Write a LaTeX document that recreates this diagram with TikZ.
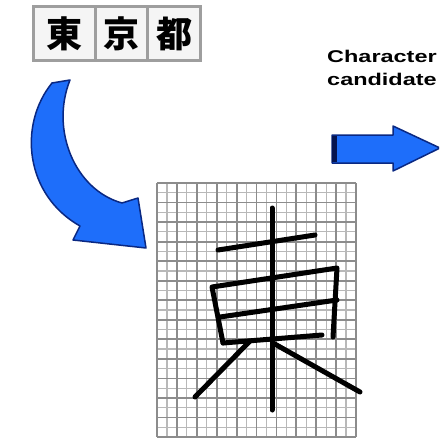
\documentclass[tikz,border=0pt]{standalone}
\usepackage{fontspec}
\setmainfont{Liberation Sans}
\newfontfamily\cjkfont{Noto Sans CJK JP}
\definecolor{arrowblue}{RGB}{30,110,250}
\definecolor{arrowedge}{RGB}{10,40,130}
\definecolor{arrowdark}{RGB}{5,20,80}
\begin{document}
\begin{tikzpicture}[x=1pt,y=-1pt,
  charbox/.style={draw=black!38,line width=3pt,fill=black!4,minimum width=#1,minimum height=54pt,inner sep=0pt,font=\cjkfont\bfseries\fontsize{36}{36}\selectfont},
  gridmajor/.style={draw=black!45,line width=1.8pt},
  gridminor/.style={draw=black!28,line width=1.2pt},
  stroke/.style={line width=5pt,line cap=round,line join=round,draw=black},
  bluefill/.style={fill=arrowblue,draw=arrowedge,line width=1.5pt,line join=round},
  label/.style={font=\bfseries\fontsize{17}{19}\selectfont,anchor=west,inner sep=0pt}
]
\clip (0,0) rectangle (439,441);
\fill[white] (0,0) rectangle (439,441);

% top character boxes
\node[charbox=62pt] (b1) at (64.5,34) {東};
\node[charbox=52pt] (b2) at (121.5,34) {京};
\node[charbox=53pt] (b3) at (174,34) {都};

% label
\node[label] (lbl1) at (327,56) {\scalebox{1.38}[1]{Character}};
\node[label] (lbl2) at (327,79) {\scalebox{1.38}[1]{candidate}};

% straight arrow
\path[bluefill] (332,135) -- (393,135) -- (393,126) -- (440,148) -- (393,171) -- (393,163) -- (332,163) -- cycle;
\fill[arrowdark] (332,136) rectangle (337,162);

% curved arrow
\path[bluefill] (52,83) .. controls (18,125) and (25,195) .. (80,226)
  -- (73,240) -- (146,248) -- (138,198) -- (122,203)
  .. controls (75,190) and (50,130) .. (70,80) -- cycle;

% grid
\fill[white] (157,183) rectangle (356,437);
\foreach \i in {0,...,9} {
  \draw[gridminor] ({157+19.9*\i+9.95},183) -- ({157+19.9*\i+9.95},437);
}
\foreach \j in {0,...,12} {
  \draw[gridminor] (157,{183+19.54*\j+9.77}) -- (356,{183+19.54*\j+9.77});
}
\foreach \i in {0,...,10} {
  \draw[gridmajor] ({157+19.9*\i},183) -- ({157+19.9*\i},437);
}
\foreach \j in {0,...,13} {
  \draw[gridmajor] (157,{183+19.54*\j}) -- (356,{183+19.54*\j});
}

% handwritten character strokes
\coordinate (t1) at (218,250); \coordinate (t2) at (315,235);
\coordinate (v1) at (272,208); \coordinate (v2) at (272,410);
\coordinate (bl) at (212,287); \coordinate (br) at (337,268);
\coordinate (brb) at (333,337); \coordinate (blb) at (223,343);
\coordinate (m1) at (220,317); \coordinate (m2) at (337,300);
\coordinate (bb2) at (322,335);
\coordinate (ld1) at (250,341); \coordinate (ld2) at (195,397);
\coordinate (rd1) at (273,343); \coordinate (rd2) at (360,392);
\draw[stroke] (t1) -- (t2);
\draw[stroke] (v1) -- (v2);
\draw[stroke] (blb) -- (bl) -- (br) -- (brb);
\draw[stroke] (m1) -- (m2);
\draw[stroke] (blb) -- (bb2);
\draw[stroke] (ld1) -- (ld2);
\draw[stroke] (rd1) -- (rd2);
\end{tikzpicture}
\end{document}
